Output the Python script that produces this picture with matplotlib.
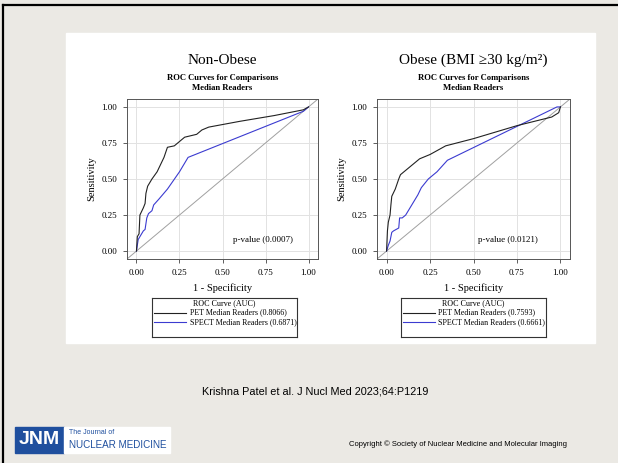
import matplotlib.pyplot as plt
from matplotlib.patches import Rectangle
from matplotlib.lines import Line2D

# ROC points (1 - specificity, sensitivity)
nonobese_pet_fpr = [0.0, 0.005, 0.015, 0.02, 0.04, 0.05, 0.055, 0.065, 0.09, 0.12, 0.14, 0.16, 0.18,
                    0.22, 0.25, 0.28, 0.35, 0.38, 0.42, 0.60, 0.80, 0.97, 1.0]
nonobese_pet_tpr = [0.0, 0.10, 0.12, 0.25, 0.30, 0.33, 0.40, 0.45, 0.50, 0.55, 0.60, 0.65, 0.72,
                    0.73, 0.76, 0.79, 0.81, 0.84, 0.86, 0.90, 0.94, 0.98, 1.0]
nonobese_spect_fpr = [0.0, 0.01, 0.02, 0.04, 0.05, 0.06, 0.07, 0.09, 0.10, 0.13, 0.18, 0.25, 0.30,
                      0.97, 1.0]
nonobese_spect_tpr = [0.0, 0.08, 0.10, 0.14, 0.15, 0.23, 0.26, 0.28, 0.32, 0.36, 0.43, 0.55, 0.65,
                      0.97, 1.0]

obese_pet_fpr = [0.0, 0.005, 0.01, 0.02, 0.025, 0.03, 0.05, 0.07, 0.08, 0.13, 0.19, 0.25, 0.34,
                 0.50, 0.75, 0.95, 0.99, 1.0]
obese_pet_tpr = [0.0, 0.14, 0.20, 0.25, 0.32, 0.38, 0.43, 0.50, 0.53, 0.58, 0.64, 0.67, 0.73,
                 0.78, 0.87, 0.93, 0.96, 1.0]
obese_spect_fpr = [0.0, 0.01, 0.02, 0.03, 0.04, 0.07, 0.075, 0.09, 0.11, 0.15, 0.18, 0.20, 0.24,
                   0.29, 0.35, 0.98, 1.0]
obese_spect_tpr = [0.0, 0.04, 0.07, 0.13, 0.14, 0.16, 0.23, 0.23, 0.25, 0.33, 0.39, 0.44, 0.50,
                   0.55, 0.63, 1.0, 1.0]

ticks = [0.0, 0.25, 0.5, 0.75, 1.0]
tick_labels = ["0.00", "0.25", "0.50", "0.75", "1.00"]

panels = [
    {"title": "Non-Obese", "pet": (nonobese_pet_fpr, nonobese_pet_tpr),
     "spect": (nonobese_spect_fpr, nonobese_spect_tpr), "p": "p-value (0.0007)", "px": 0.91,
     "pet_auc": "PET Median Readers (0.8066)", "spect_auc": "SPECT Median Readers (0.6871)"},
    {"title": "Obese (BMI \u226530 kg/m\u00b2)", "pet": (obese_pet_fpr, obese_pet_tpr),
     "spect": (obese_spect_fpr, obese_spect_tpr), "p": "p-value (0.0121)", "px": 0.87,
     "pet_auc": "PET Median Readers (0.7593)", "spect_auc": "SPECT Median Readers (0.6661)"},
]

W, H = 618, 463
bg = "#ebe9e4"
blue = "#3b3bd0"
logo_blue = "#1f4f9e"
serif = "Liberation Serif"
sans = "Liberation Sans"


def fx(px):
    return px / W


def fy(py):
    return 1 - py / H


fig = plt.figure(figsize=(6.18, 4.63), dpi=100, facecolor=bg)

# slide frame and white panel
fig.add_artist(Line2D([fx(3), fx(3)], [fy(5), 0], color="black", lw=1.6))
fig.add_artist(Line2D([fx(3), 1], [fy(5), fy(5)], color="black", lw=1.6))
fig.add_artist(Rectangle((fx(66), fy(343)), fx(595 - 66), (343 - 33) / H, color="white", zorder=0))

axes_left = [127, 377]
axes_width = [191, 193]
legend_left = [152, 401]

for i, p in enumerate(panels):
    ax = fig.add_axes([fx(axes_left[i]), fy(259), fx(axes_width[i]), 160 / H])
    ax.set_xlim(-0.055, 1.055)
    ax.set_ylim(-0.055, 1.055)
    ax.plot([-0.055, 1.055], [-0.055, 1.055], color="#a0a0a0", lw=0.7)
    ax.plot(p["spect"][0], p["spect"][1], color=blue, lw=0.8)
    ax.plot(p["pet"][0], p["pet"][1], color="#222222", lw=0.8)
    ax.set_xticks(ticks, tick_labels, fontsize=6.5, family=serif)
    ax.set_yticks(ticks, tick_labels, fontsize=6.5, family=serif)
    ax.grid(True, color="#e2e2e2", lw=0.7)
    ax.set_axisbelow(True)
    ax.tick_params(length=3, width=0.6, color="#444444", pad=4)
    for s in ax.spines.values():
        s.set_color("#555555")
        s.set_linewidth(0.7)
    ax.set_xlabel("1 - Specificity", fontsize=7.5, family=serif, labelpad=5)
    ax.set_ylabel("Sensitivity", fontsize=7.5, family=serif, labelpad=4)
    ax.text(p["px"], 0.08, p["p"], ha="right", va="center", fontsize=6.5, family=serif)

    cx = fx(axes_left[i] + axes_width[i] / 2)
    fig.text(cx, fy(60), p["title"], ha="center", va="center", fontsize=11, family=serif)
    fig.text(cx, fy(78), "ROC Curves for Comparisons", ha="center", va="center",
             fontsize=6.2, family=serif, weight="bold")
    fig.text(cx, fy(88), "Median Readers", ha="center", va="center",
             fontsize=6.2, family=serif, weight="bold")

    # legend box
    lg = fig.add_axes([fx(legend_left[i]), fy(337), fx(145), 39 / H])
    lg.set_xlim(0, 145)
    lg.set_ylim(39, 0)
    lg.set_xticks([])
    lg.set_yticks([])
    for s in lg.spines.values():
        s.set_color("#333333")
        s.set_linewidth(0.8)
    lg.text(72, 5.5, "ROC Curve (AUC)", ha="center", va="center", fontsize=5.8, family=serif)
    lg.text(37.5, 14.5, p["pet_auc"], ha="left", va="center", fontsize=5.8, family=serif)
    lg.text(37.5, 24, p["spect_auc"], ha="left", va="center", fontsize=5.8, family=serif)
    lg.plot([2, 34], [14.5, 14.5], color="#222222", lw=0.8)
    lg.plot([2, 34], [24, 24], color=blue, lw=0.8)

# footer
fig.text(fx(315), fy(391), "Krishna Patel et al. J Nucl Med 2023;64:P1219", ha="center", va="center",
         fontsize=7.8, family=sans)
fig.text(fx(458), fy(444), "Copyright \u00a9 Society of Nuclear Medicine and Molecular Imaging",
         ha="center", va="center", fontsize=5.5, family=sans)

# journal logo
fig.add_artist(Rectangle((fx(15), fy(453)), fx(49), 26 / H, color=logo_blue, zorder=2))
fig.add_artist(Rectangle((fx(64), fy(453)), fx(106), 26 / H, color="white", zorder=2))
fig.text(fx(39.5), fy(440), "JNM", ha="center", va="center", fontsize=14, weight="bold",
         color="white", family=sans, zorder=3)
fig.text(fx(69), fy(433), "The Journal of", ha="left", va="center", fontsize=5,
         color=logo_blue, family=sans, zorder=3)
fig.text(fx(69), fy(445), "NUCLEAR MEDICINE", ha="left", va="center", fontsize=7.1,
         color=logo_blue, family=sans, zorder=3)

fig.savefig("out.png", dpi=100, facecolor=bg)
